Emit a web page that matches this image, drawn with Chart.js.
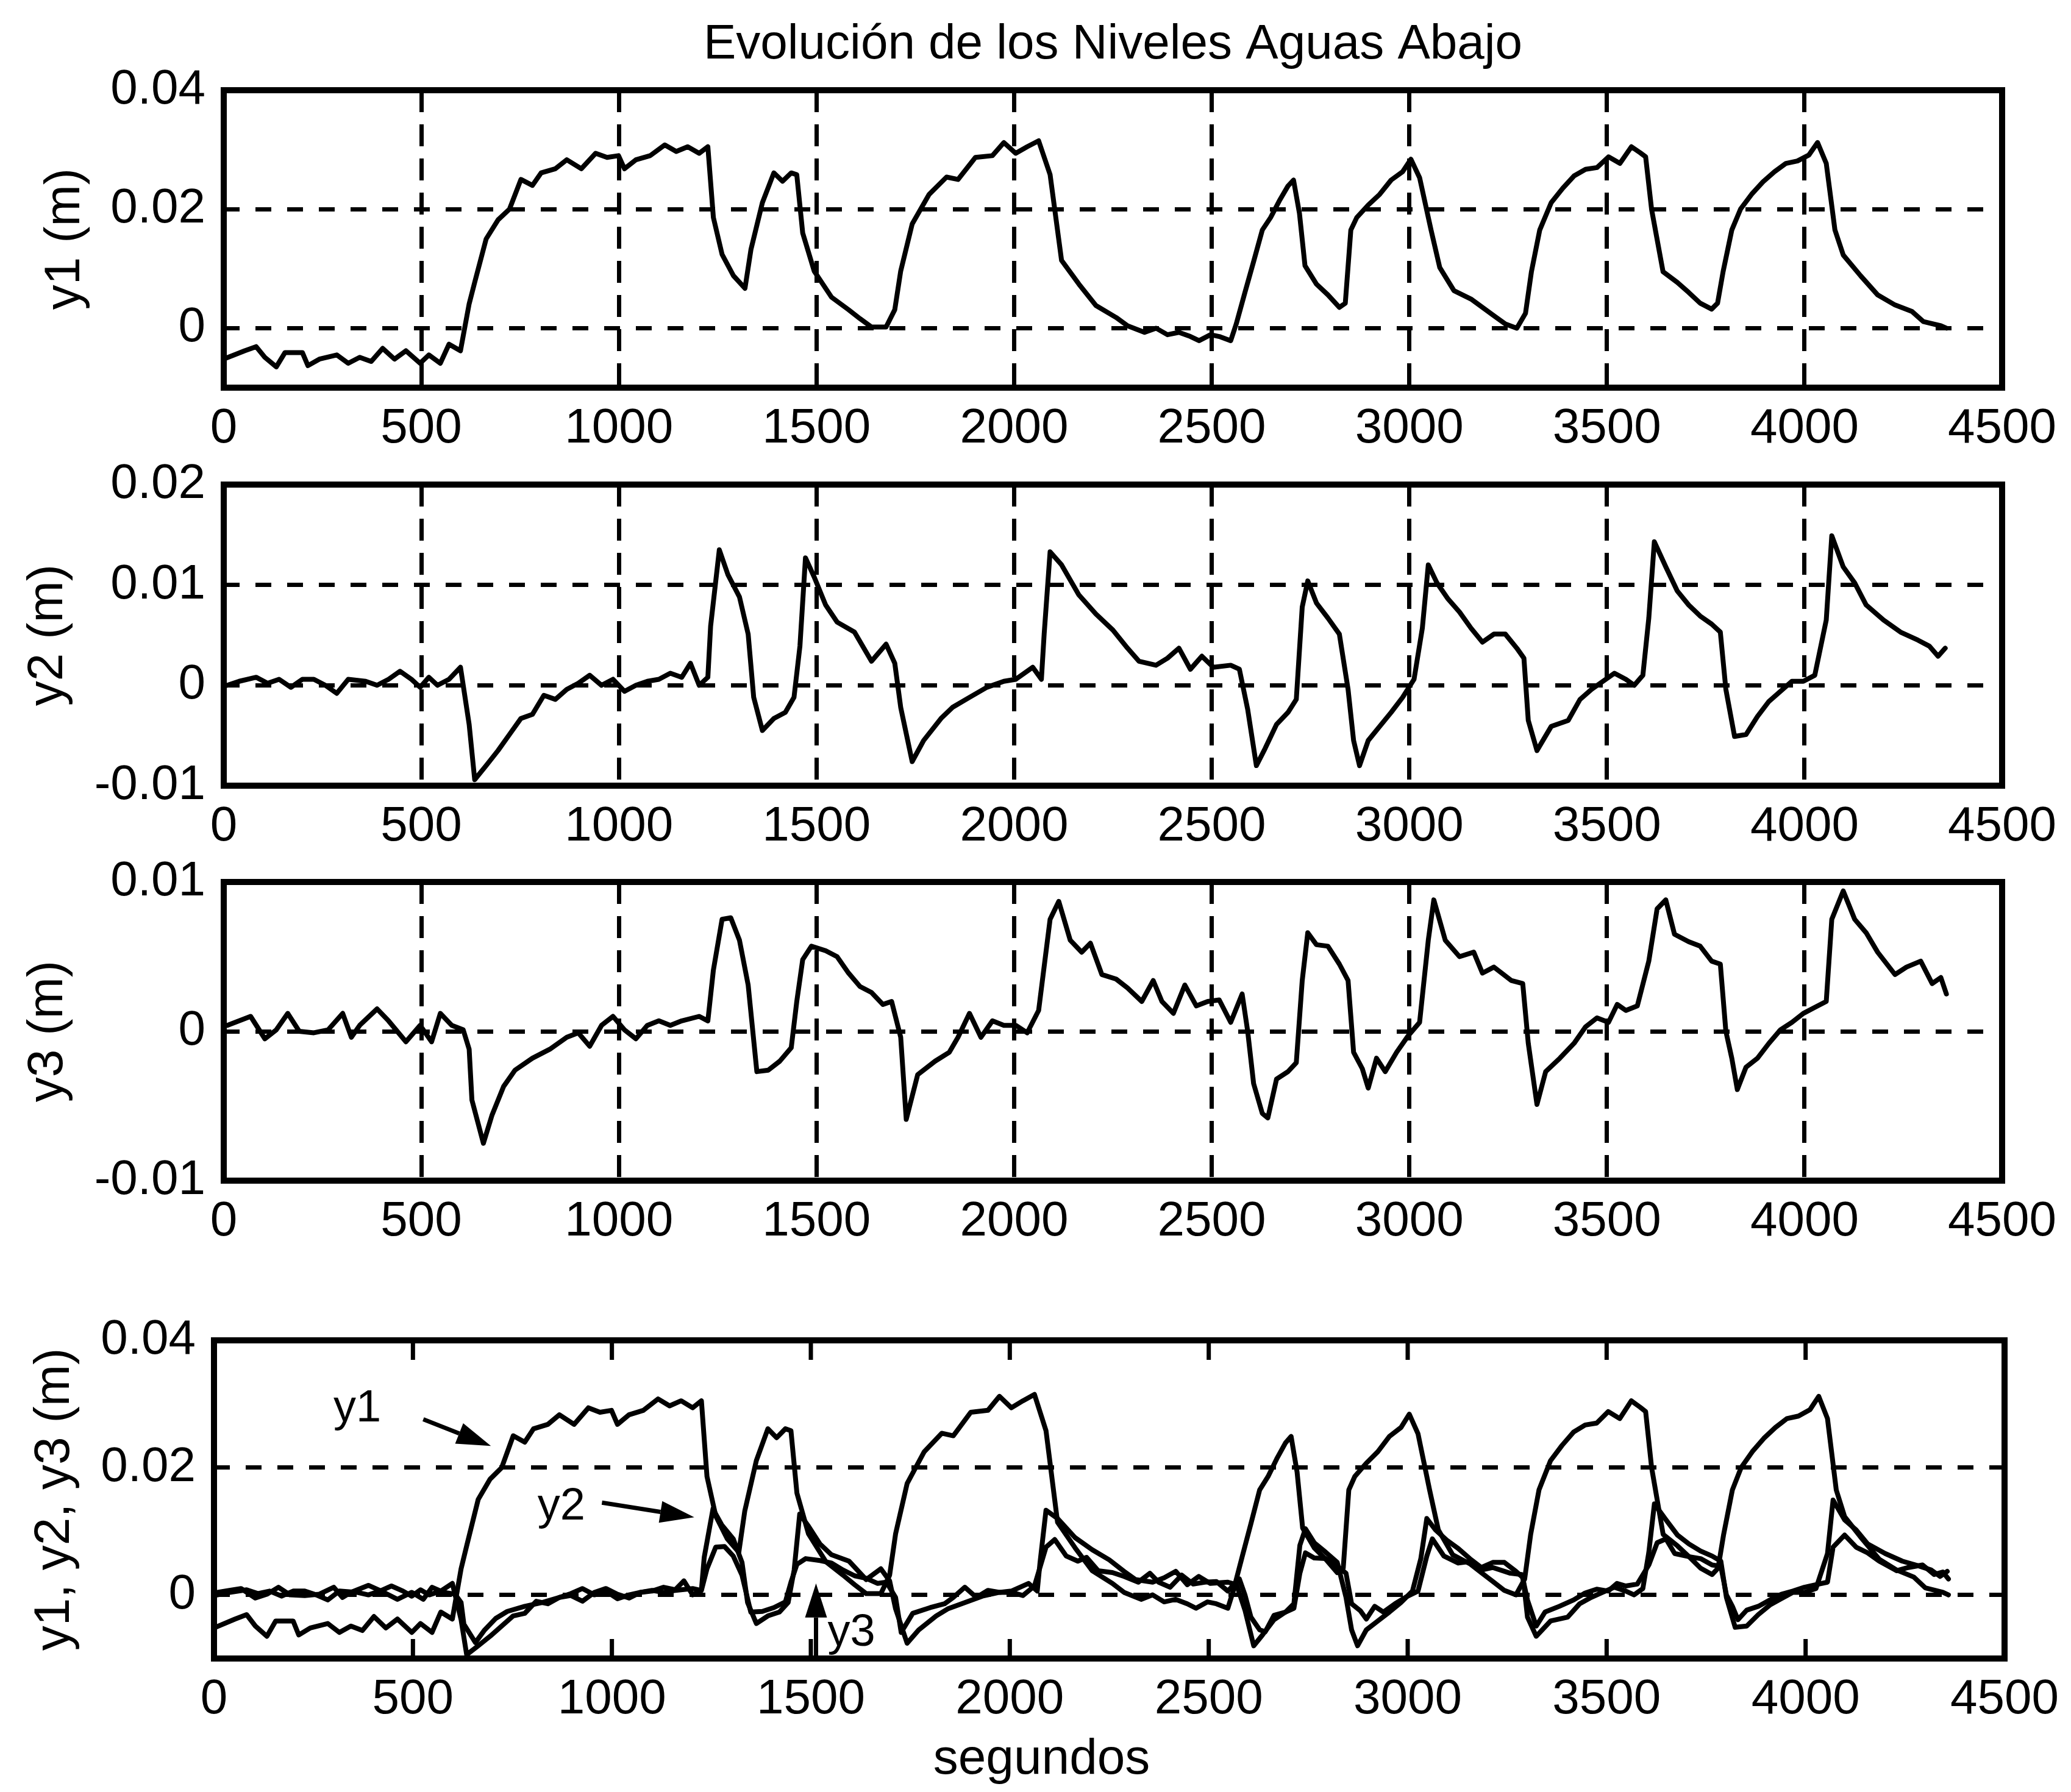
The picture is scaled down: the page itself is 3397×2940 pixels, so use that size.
<!DOCTYPE html>
<html>
<head>
<meta charset="utf-8">
<title>Evolución de los Niveles Aguas Abajo</title>
<script src="https://cdn.jsdelivr.net/npm/chart.js@4.4.1/dist/chart.umd.min.js"></script>
<style>
  html, body { margin: 0; padding: 0; background: #fff; }
  body { width: 3397px; height: 2940px; position: relative; overflow: hidden; }
  canvas { position: absolute; left: 0; }
</style>
</head>
<body>
<canvas id="c1"></canvas>
<canvas id="c2"></canvas>
<canvas id="c3"></canvas>
<canvas id="c4"></canvas>
<script>
// Niveles aguas abajo: tiempos (s) y niveles (m)

const t1 = [0, 53, 82, 104, 133, 155, 199, 213, 242, 286, 315, 344, 373, 402, 432, 461, 497, 519, 548, 570, 599, 606,
  621, 635, 664, 694, 723, 752, 781, 803, 839, 868, 905, 941, 970, 999, 1014, 1043, 1079, 1116, 1145, 1174, 1203, 1225,
  1239, 1261, 1290, 1319, 1334, 1363, 1392, 1414, 1436, 1450, 1465, 1494, 1538, 1581, 1610, 1639, 1676, 1698, 1713,
  1742, 1785, 1829, 1858, 1902, 1945, 1974, 2004, 2033, 2062, 2091, 2120, 2164, 2207, 2258, 2287, 2330, 2359, 2388,
  2417, 2446, 2468, 2497, 2519, 2548, 2562, 2584, 2606, 2628, 2649, 2671, 2693, 2707, 2722, 2736, 2765, 2794, 2823,
  2838, 2852, 2867, 2896, 2925, 2954, 2983, 3004, 3026, 3055, 3077, 3113, 3156, 3185, 3214, 3243, 3272, 3294, 3309,
  3330, 3359, 3388, 3417, 3446, 3475, 3504, 3533, 3562, 3584, 3598, 3613, 3642, 3678, 3707, 3736, 3765, 3780, 3794,
  3816, 3838, 3866, 3895, 3924, 3953, 3982, 4011, 4033, 4055, 4077, 4098, 4142, 4185, 4229, 4272, 4301, 4345, 4359];
const y1 = [-0.0052, -0.0038, -0.0031, -0.0049, -0.0065, -0.0041, -0.0041, -0.0063, -0.0052, -0.0045, -0.0059, -0.0049,
  -0.0056, -0.0034, -0.0052, -0.0038, -0.0059, -0.0045, -0.0059, -0.0027, -0.0038, -0.0013,
  0.0041, 0.0077, 0.0150, 0.0182, 0.0200, 0.0250, 0.0240, 0.0261, 0.0268, 0.0283, 0.0268, 0.0294, 0.0287, 0.0290,
  0.0268, 0.0283, 0.0290, 0.0308, 0.0297, 0.0305, 0.0294, 0.0305,
  0.0186, 0.0124, 0.0088, 0.0067, 0.0132, 0.0211, 0.0261, 0.0247, 0.0261, 0.0258, 0.0160, 0.0096, 0.0052, 0.0031,
  0.0016, 0.0002, 0.0002, 0.0031, 0.0096,
  0.0175, 0.0225, 0.0254, 0.0250, 0.0287, 0.0290, 0.0312, 0.0294, 0.0305, 0.0315, 0.0258, 0.0114, 0.0074, 0.0038,
  0.0018, 0.0004, -0.0007, 0.0000, -0.0011,
  -0.0007, -0.0014, -0.0021, -0.0011, -0.0014, -0.0021, 0.0007, 0.0060, 0.0112, 0.0165, 0.0186, 0.0214, 0.0239,
  0.0249, 0.0193, 0.0105, 0.0074, 0.0056, 0.0035,
  0.0042, 0.0165, 0.0186, 0.0207, 0.0225, 0.0249, 0.0263, 0.0284, 0.0253, 0.0165, 0.0102, 0.0063, 0.0049, 0.0035,
  0.0021, 0.0007, 0.0000, 0.0025, 0.0095,
  0.0165, 0.0211, 0.0235, 0.0256, 0.0267, 0.0270, 0.0288, 0.0277, 0.0305, 0.0295, 0.0288, 0.0200, 0.0095, 0.0077,
  0.0060, 0.0042, 0.0032, 0.0042, 0.0095,
  0.0165, 0.0200, 0.0225, 0.0246, 0.0263, 0.0277, 0.0281, 0.0291, 0.0312, 0.0277, 0.0165, 0.0123, 0.0088, 0.0056,
  0.0039, 0.0028, 0.0011, 0.0004, 0.0000];

const t2 = [9, 39, 82, 111, 140, 170, 199, 228, 257, 286, 315, 359, 388, 417, 446, 475, 497, 519, 541, 570, 599, 606,
  621, 635, 664, 694, 723, 752, 781, 810, 839, 868, 897, 926, 956, 985, 1014, 1043, 1072, 1101, 1130, 1159, 1181, 1203,
  1225, 1232, 1254, 1276, 1305, 1327, 1341, 1363, 1392, 1421, 1443, 1458, 1472, 1494, 1523, 1552, 1596, 1639, 1676,
  1698, 1713, 1742, 1771, 1815, 1844, 1887, 1931, 1974, 2004, 2047, 2069, 2076, 2091, 2120, 2164, 2207, 2250, 2287,
  2316, 2359, 2388, 2417, 2446, 2475, 2504, 2548, 2570, 2591, 2613, 2635, 2664, 2693, 2714, 2729, 2743, 2765, 2794,
  2823, 2845, 2859, 2874, 2896, 2925, 2954, 2983, 3012, 3033, 3048, 3070, 3098, 3127, 3156, 3185, 3214, 3243, 3272,
  3290, 3301, 3323, 3359, 3402, 3432, 3461, 3490, 3519, 3548, 3569, 3591, 3606, 3620, 3649, 3678, 3707, 3736, 3765,
  3787, 3801, 3823, 3852, 3881, 3910, 3939, 3968, 3997, 4026, 4055, 4069, 4098, 4127, 4156, 4200, 4243, 4287, 4316,
  4338, 4356];
const y2 = [0.0000, 0.0004, 0.0008, 0.0002, 0.0006, -0.0002, 0.0006, 0.0006, 0.0000, -0.0008, 0.0006, 0.0004, 0.0000,
  0.0006, 0.0014, 0.0006, -0.0002, 0.0008, 0.0000, 0.0006, 0.0018, 0.0000,
  -0.0039, -0.0094, -0.0080, -0.0065, -0.0049, -0.0033, -0.0029, -0.0010, -0.0014, -0.0004, 0.0002, 0.0010, 0.0000,
  0.0006, -0.0006, 0.0000, 0.0004, 0.0006, 0.0012, 0.0008, 0.0022, 0.0000,
  0.0008, 0.0059, 0.0135, 0.0110, 0.0088, 0.0051, -0.0012, -0.0045, -0.0033, -0.0027, -0.0012, 0.0039, 0.0127,
  0.0108, 0.0080, 0.0063, 0.0053, 0.0024, 0.0041,
  0.0022, -0.0022, -0.0076, -0.0055, -0.0033, -0.0022, -0.0012, -0.0002, 0.0004, 0.0006, 0.0018, 0.0006, 0.0051,
  0.0133, 0.0120, 0.0090, 0.0071, 0.0055, 0.0037,
  0.0024, 0.0020, 0.0027, 0.0037, 0.0016, 0.0029, 0.0018, 0.0020, 0.0016, -0.0024, -0.0080, -0.0063, -0.0039,
  -0.0027, -0.0014, 0.0078, 0.0104, 0.0082, 0.0067,
  0.0051, -0.0004, -0.0055, -0.0080, -0.0055, -0.0041, -0.0027, -0.0012, 0.0006, 0.0057, 0.0120, 0.0102, 0.0086,
  0.0073, 0.0057, 0.0043, 0.0051, 0.0051, 0.0037,
  0.0027, -0.0035, -0.0065, -0.0041, -0.0035, -0.0014, -0.0004, 0.0004, 0.0012, 0.0006, 0.0000, 0.0010, 0.0067,
  0.0143, 0.0118, 0.0094, 0.0080, 0.0069, 0.0061,
  0.0053, -0.0004, -0.0051, -0.0049, -0.0031, -0.0016, -0.0006, 0.0004, 0.0004, 0.0010, 0.0065, 0.0149, 0.0118,
  0.0102, 0.0080, 0.0065, 0.0053, 0.0045, 0.0039,
  0.0029, 0.0037];

const t3 = [9, 39, 68, 104, 133, 162, 191, 228, 264, 301, 323, 344, 388, 417, 461, 497, 526, 548, 577, 606, 621, 628,
  657, 679, 708, 737, 781, 825, 868, 897, 926, 956, 985, 1014, 1043, 1072, 1101, 1130, 1159, 1203, 1225, 1239, 1261,
  1283, 1305, 1327, 1349, 1378, 1407, 1436, 1450, 1465, 1487, 1523, 1552, 1581, 1610, 1639, 1668, 1690, 1713, 1727,
  1756, 1800, 1836, 1858, 1887, 1916, 1945, 1974, 2004, 2033, 2062, 2091, 2113, 2142, 2171, 2193, 2222, 2258, 2287,
  2323, 2352, 2374, 2403, 2432, 2461, 2490, 2519, 2548, 2577, 2591, 2606, 2628, 2642, 2664, 2693, 2714, 2729, 2743,
  2765, 2794, 2823, 2845, 2859, 2881, 2896, 2917, 2939, 2968, 2997, 3026, 3048, 3062, 3091, 3127, 3163, 3185, 3214,
  3258, 3287, 3301, 3323, 3345, 3381, 3417, 3446, 3475, 3504, 3526, 3548, 3577, 3606, 3627, 3649, 3671, 3707, 3736,
  3765, 3787, 3801, 3816, 3830, 3852, 3881, 3910, 3939, 3968, 3997, 4026, 4055, 4069, 4098, 4127, 4156, 4185, 4229,
  4258, 4294, 4323, 4345, 4359];
const y3 = [0.0004, 0.0007, 0.0010, -0.0005, 0.0001, 0.0012, 0.0000, -0.0001, 0.0001, 0.0012, -0.0004, 0.0004, 0.0015,
  0.0007, -0.0007, 0.0004, -0.0007, 0.0012, 0.0004, 0.0001, -0.0012, -0.0046,
  -0.0075, -0.0056, -0.0037, -0.0026, -0.0018, -0.0012, -0.0004, -0.0001, -0.0010, 0.0004, 0.0010, 0.0001, -0.0005,
  0.0004, 0.0007, 0.0004, 0.0007, 0.0010, 0.0007, 0.0041, 0.0075,
  0.0076, 0.0061, 0.0031, -0.0027, -0.0026, -0.0020, -0.0011, 0.0020, 0.0048, 0.0057, 0.0054, 0.0050, 0.0039,
  0.0030, 0.0026, 0.0018, 0.0020, -0.0004, -0.0059,
  -0.0029, -0.0020, -0.0014, -0.0004, 0.0012, -0.0004, 0.0007, 0.0004, 0.0004, -0.0001, 0.0014, 0.0075, 0.0087,
  0.0061, 0.0053, 0.0059, 0.0038, 0.0035, 0.0029,
  0.0020, 0.0034, 0.0020, 0.0012, 0.0031, 0.0017, 0.0020, 0.0021, 0.0006, 0.0025, 0.0000, -0.0035, -0.0055, -0.0058,
  -0.0032, -0.0027, -0.0021, 0.0034, 0.0066,
  0.0058, 0.0057, 0.0045, 0.0034, -0.0014, -0.0025, -0.0038, -0.0018, -0.0027, -0.0014, -0.0003, 0.0006, 0.0061,
  0.0088, 0.0061, 0.0050, 0.0053, 0.0039, 0.0043,
  0.0034, 0.0032, -0.0008, -0.0049, -0.0027, -0.0018, -0.0008, 0.0003, 0.0009, 0.0006, 0.0018, 0.0014, 0.0017,
  0.0047, 0.0082, 0.0088, 0.0065, 0.0060, 0.0057,
  0.0047, 0.0045, 0.0000, -0.0018, -0.0039, -0.0024, -0.0018, -0.0008, 0.0001, 0.0006, 0.0012, 0.0016, 0.0020,
  0.0075, 0.0094, 0.0075, 0.0066, 0.0053, 0.0038,
  0.0043, 0.0047, 0.0032, 0.0036, 0.0025];

// ticks
const xTicks = [0, 500, 1000, 1500, 2000, 2500, 3000, 3500, 4000, 4500];
const xTickLabels = ['0', '500', '1000', '1500', '2000', '2500', '3000', '3500', '4000', '4500'];
const yTicksA = [0, 0.02, 0.04];
const yTickLabelsA = ['0', '0.02', '0.04'];
const yTicksB = [-0.01, 0, 0.01, 0.02];
const yTickLabelsB = ['-0.01', '0', '0.01', '0.02'];
const yTicksC = [-0.01, 0, 0.01];
const yTickLabelsC = ['-0.01', '0', '0.01'];

// anotaciones del ultimo grafico (en unidades de los ejes)
const notes = [
  { text: 'y1', t: 360, v: 0.0292 },
  { text: 'y2', t: 873, v: 0.0138 },
  { text: 'y3', t: 1602, v: -0.0060 }
];
const arrows = [
  { from: [526, 0.0276], to: [696, 0.0234] },
  { from: [975, 0.0145], to: [1207, 0.0122] },
  { from: [1513, -0.0100], to: [1513, 0.0018] }
];

const W = 3397;
const tickFont = { family: "'Liberation Sans', Arial", size: 80 };
const labelFont = { family: "'Liberation Sans', Arial", size: 82 };

const pts = (ts, ys) => ts.map((t, i) => ({ x: t, y: ys[i] }));
const line = (ts, ys) => ({
  data: pts(ts, ys), borderColor: '#000', borderWidth: 8, pointRadius: 0,
  tension: 0, borderJoinStyle: 'round', borderCapStyle: 'round', fill: false
});

// caja negra alrededor del area
const boxPlugin = {
  id: 'box',
  afterDraw(chart) {
    const { ctx, chartArea: a } = chart;
    ctx.save();
    ctx.strokeStyle = '#000';
    ctx.lineWidth = 10;
    ctx.strokeRect(a.left, a.top, a.right - a.left, a.bottom - a.top);
    ctx.restore();
  }
};

function drawArrow(ctx, x1, y1, x2, y2) {
  const ang = Math.atan2(y2 - y1, x2 - x1);
  const head = 56, half = 18;
  const bx = x2 - head * Math.cos(ang), by = y2 - head * Math.sin(ang);
  ctx.beginPath(); ctx.moveTo(x1, y1); ctx.lineTo(bx, by); ctx.stroke();
  ctx.beginPath();
  ctx.moveTo(x2, y2);
  ctx.lineTo(bx + half * Math.sin(ang), by - half * Math.cos(ang));
  ctx.lineTo(bx - half * Math.sin(ang), by + half * Math.cos(ang));
  ctx.closePath();
  ctx.fill();
}

// ticks hacia dentro, flechas y textos del grafico combinado
const notesPlugin = {
  id: 'notes',
  afterDraw(chart) {
    const { ctx, chartArea: a, scales: { x, y } } = chart;
    ctx.save();
    ctx.strokeStyle = '#000';
    ctx.fillStyle = '#000';
    ctx.lineWidth = 7;
    x.ticks.forEach(tk => {
      if (tk.value <= 0 || tk.value >= 4500) return;
      const px = x.getPixelForValue(tk.value);
      ctx.beginPath();
      ctx.moveTo(px, a.top); ctx.lineTo(px, a.top + 32);
      ctx.moveTo(px, a.bottom); ctx.lineTo(px, a.bottom - 32);
      ctx.stroke();
    });
    arrows.forEach(ar => drawArrow(ctx,
      x.getPixelForValue(ar.from[0]), y.getPixelForValue(ar.from[1]),
      x.getPixelForValue(ar.to[0]), y.getPixelForValue(ar.to[1])));
    ctx.font = "74px 'Liberation Sans', Arial";
    ctx.textAlign = 'center';
    ctx.textBaseline = 'middle';
    notes.forEach(n => ctx.fillText(n.text, x.getPixelForValue(n.t), y.getPixelForValue(n.v)));
    ctx.font = "82px 'Liberation Sans', Arial";
    ctx.fillText('segundos', x.getPixelForValue(2080), a.bottom + 166);
    ctx.restore();
  }
};

function makePanel(id, p) {
  const canvas = document.getElementById(id);
  canvas.width = W;
  canvas.height = p.height;
  canvas.style.top = p.canvasTop + 'px';
  const xHeight = p.height - (p.bottom - p.canvasTop);

  return new Chart(canvas, {
    type: 'line',
    data: { datasets: p.series },
    options: {
      responsive: false,
      animation: false,
      layout: { padding: { top: p.title ? 0 : p.top - p.canvasTop, left: 0, right: W - p.right, bottom: 0 } },
      plugins: {
        legend: { display: false },
        tooltip: { enabled: false },
        title: p.title ? {
          display: true, text: p.title, fullSize: false, color: '#000',
          font: { family: "'Liberation Sans', Arial", size: 80, weight: 'normal' },
          padding: { top: 26, bottom: p.top - 26 - 96 }
        } : { display: false }
      },
      scales: {
        x: {
          type: 'linear', min: 0, max: 4500,
          afterBuildTicks: s => { s.ticks = xTicks.map(v => ({ value: v })); },
          afterFit: s => { s.height = xHeight; },
          ticks: {
            autoSkip: false, maxRotation: 0, minRotation: 0, padding: 20, color: '#000', font: tickFont,
            callback: (v, i) => xTickLabels[i]
          },
          grid: { display: p.xGrid, color: '#000', lineWidth: 7, drawTicks: false },
          border: { display: false, dash: [36, 20] }
        },
        y: {
          type: 'linear', min: p.yMin, max: p.yMax,
          afterBuildTicks: s => { s.ticks = p.yTicks.map(v => ({ value: v })); },
          afterFit: s => { s.width = p.left; },
          ticks: {
            padding: 30, color: '#000', font: tickFont,
            callback: (v, i) => p.yLabels[i]
          },
          grid: { color: '#000', lineWidth: 7, drawTicks: false },
          border: { display: false, dash: [26, 26] },
          title: {
            display: true, text: p.yTitle, color: '#000', font: labelFont,
            padding: { top: p.yTitlePad, bottom: 0 }
          }
        }
      }
    },
    plugins: p.extra ? [boxPlugin, p.extra] : [boxPlugin]
  });
}

makePanel('c1', {
  canvasTop: 0, height: 760, top: 148, bottom: 636, left: 367, right: 3284,
  title: 'Evolución de los Niveles Aguas Abajo',
  series: [line(t1, y1)], xGrid: true,
  yMin: -0.01, yMax: 0.04, yTicks: yTicksA, yLabels: yTickLabelsA,
  yTitle: 'y1 (m)', yTitlePad: 58
});

makePanel('c2', {
  canvasTop: 690, height: 724, top: 795, bottom: 1289, left: 367, right: 3284,
  series: [line(t2, y2)], xGrid: true,
  yMin: -0.01, yMax: 0.02, yTicks: yTicksB, yLabels: yTickLabelsB,
  yTitle: 'y2 (m)', yTitlePad: 30
});

makePanel('c3', {
  canvasTop: 1342, height: 720, top: 1447, bottom: 1937, left: 367, right: 3284,
  series: [line(t3, y3)], xGrid: true,
  yMin: -0.01, yMax: 0.01, yTicks: yTicksC, yLabels: yTickLabelsC,
  yTitle: 'y3 (m)', yTitlePad: 30
});

makePanel('c4', {
  canvasTop: 2094, height: 846, top: 2199, bottom: 2721, left: 351, right: 3304,
  series: [line(t1, y1), line(t2, y2), line(t3, y3)], xGrid: false,
  yMin: -0.01, yMax: 0.04, yTicks: yTicksA, yLabels: yTickLabelsA,
  yTitle: 'y1, y2, y3 (m)', yTitlePad: 41,
  extra: notesPlugin
});
</script>
</body>
</html>
